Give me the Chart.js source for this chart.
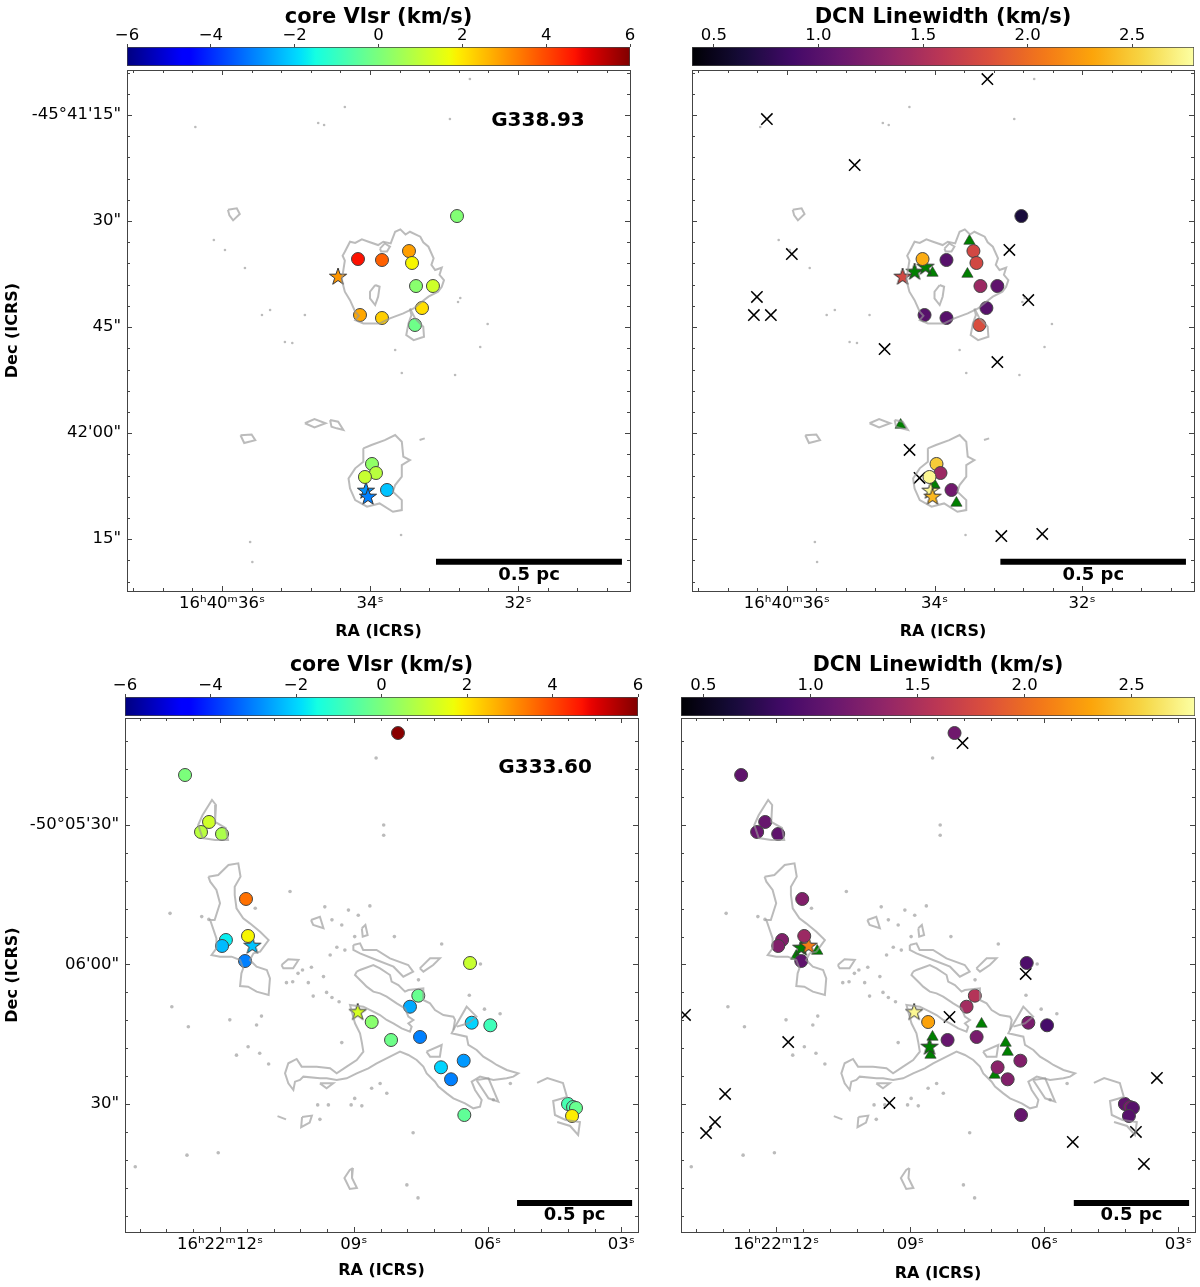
<!DOCTYPE html>
<html>
<head>
<meta charset="utf-8">
<title>core Vlsr and DCN linewidth</title>
<script src="https://cdn.jsdelivr.net/npm/chart.js@4"></script>
<style>
  html, body { margin: 0; padding: 0; background: #fff; }
  #page { position: relative; width: 1200px; height: 1287px; overflow: hidden; }
  canvas { position: absolute; }
</style>
</head>
<body>
<div id="page"></div>
<script>
// G338.93: RA = seconds after 16h40m, Dec = arcsec south of -45d41m
const g338CoreRa = [34.162, 33.838, 33.473, 33.432, 33.378, 33.149, 34.135, 33.838, 33.297, 33.392, 32.824, 33.973, 33.919, 34.068, 33.770];
const g338CoreDec = [35.37, 35.51, 34.24, 35.93, 39.19, 39.19, 43.29, 43.71, 42.30, 44.70, 29.29, 64.36, 65.64, 66.20, 68.04];
const g338CoreVlsr = [4.7, 3.7, 2.9, 1.8, 0.2, 1.2, 2.8, 2.3, 2.1, -0.2, 0.1, 0.3, 0.9, 1.1, -2.2];
const g338CoreWidth = [2.35, 1.0, 1.75, 1.75, 1.4, 1.05, 1.0, 1.0, 1.0, 1.8, 0.65, 2.5, 1.4, 2.75, 1.15];
const g338StarRa = [34.432, 34.054, 34.027];
const g338StarDec = [37.91, 68.18, 69.03];
const g338StarVlsr = [3.0, -2.8, -3.0];
const g338StarWidth = [1.75, 2.75, 2.4];
const g338NoFitStar = [[34.27, 37.21], [34.122, 36.50]];
const g338NoFitTri = [[34.027, 37.35], [33.527, 32.82], [33.554, 37.49], [34.0, 67.33], [33.703, 69.88], [34.459, 58.85]];
const g338NoDcn = [[33.284, 9.91], [36.27, 15.57], [35.081, 22.07], [35.932, 34.66], [36.405, 40.74], [36.446, 43.29], [36.216, 43.29], [34.676, 48.10], [32.986, 34.09], [32.73, 41.17], [33.149, 49.94], [34.338, 62.38], [34.203, 66.34], [33.095, 74.55], [32.541, 74.26]];

const g338Contours = [
  [[34.36, 36.93], [34.34, 35.6], [34.37, 34.9], [34.34, 34.34], [34.27, 32.92], [34.2, 33.1], [34.11, 32.59], [34.02, 32.92], [33.89, 33.39], [33.82, 32.92], [33.72, 33.16], [33.66, 31.51], [33.59, 31.18], [33.52, 31.9], [33.46, 31.51], [33.32, 32.21], [33.28, 33.0], [33.21, 33.63], [33.14, 35.28], [33.17, 36.2], [33.12, 36.93], [33.03, 36.6], [33.06, 37.6], [33.0, 38.35], [33.03, 39.29], [33.08, 40.0], [33.21, 40.70], [33.30, 41.41], [33.41, 42.36], [33.55, 43.06], [33.73, 43.77], [33.87, 44.48], [34.09, 44.48], [34.20, 44.01], [34.15, 43.4], [34.20, 42.83], [34.27, 41.18], [34.34, 39.99], [34.38, 38.35], [34.36, 36.93]],
  [[33.93, 39.05], [33.87, 39.29], [33.89, 40.70], [33.93, 41.88], [34.0, 40.94], [34.0, 40.0], [33.93, 39.05]],
  [[33.46, 42.36], [33.39, 43.77], [33.28, 44.95], [33.27, 46.36], [33.41, 46.84], [33.51, 46.13], [33.48, 44.48], [33.44, 43.30], [33.46, 42.36]],
  [[33.865, 33.9], [33.8, 33.16], [33.73, 33.6], [33.77, 34.3], [33.85, 34.3], [33.865, 33.9]],
  [[34.09, 62.15], [33.98, 61.68], [33.80, 60.98], [33.66, 60.27], [33.57, 61.21], [33.55, 63.33], [33.46, 63.81], [33.57, 64.51], [33.57, 66.16], [33.66, 67.34], [33.69, 68.29], [33.57, 69.47], [33.57, 70.88], [33.69, 71.12], [33.87, 69.94], [34.04, 70.41], [34.20, 69.47], [34.27, 67.81], [34.29, 66.40], [34.20, 64.98], [34.09, 64.04], [34.09, 62.15]],
  [[34.54, 58.15], [34.43, 58.38], [34.36, 59.56], [34.45, 59.32], [34.52, 59.09], [34.54, 58.15]],
  [[33.33, 60.97], [33.26, 60.74]],
  [[35.92, 28.4], [35.8, 28.2], [35.76, 29.0], [35.85, 29.9], [35.9, 29.2], [35.92, 28.4]],
  [[35.75, 60.3], [35.6, 60.2], [35.55, 61.0], [35.7, 61.4], [35.75, 60.3]],
  [[34.88, 58.6], [34.75, 58.0], [34.6, 58.6], [34.75, 59.2], [34.88, 58.6]]
];
const g338Specks = [[32.65, 9.91], [34.34, 13.87], [34.70, 16.13], [34.62, 16.41], [32.92, 15.57], [36.36, 16.70], [36.11, 32.68], [35.96, 34.09], [35.69, 36.64], [35.46, 43.29], [35.35, 42.58], [35.15, 47.11], [35.05, 47.25], [34.88, 43.29], [32.78, 40.88], [32.81, 41.45], [32.41, 44.56], [32.51, 47.81], [32.85, 51.78], [33.57, 51.49], [33.66, 48.24], [35.59, 78.22], [33.58, 74.41], [35.62, 75.4]];

// G333.60: RA = seconds after 16h22m, Dec = arcsec south of -50d05m
const g333CoreRa = [8.009, 12.784, 12.246, 12.426, 11.955, 11.417, 11.372, 11.867, 11.954, 11.439, 6.394, 7.554, 7.74, 8.599, 8.165, 7.515, 6.357, 5.939, 6.536, 7.045, 6.82, 6.522, 4.197, 4.085, 4.018, 4.107];
const g333CoreDec = [10.22, 19.25, 29.35, 31.51, 31.94, 45.91, 53.87, 54.73, 56.02, 59.25, 59.68, 66.71, 69.08, 72.37, 76.24, 75.59, 72.52, 73.08, 80.69, 82.11, 84.69, 92.37, 90.0, 90.65, 90.86, 92.58];
const g333CoreVlsr = [5.9, 0.0, 1.2, 0.9, 0.7, 3.5, 1.8, -1.7, -2.3, -3.0, 1.1, -0.3, -2.5, 0.2, -0.2, -3.0, -2.0, -0.9, -2.7, -2.0, -3.0, -0.4, -0.8, -0.7, -0.3, 1.9];
const g333CoreWidth = [1.15, 1.05, 1.1, 1.1, 1.05, 1.25, 1.4, 1.25, 1.25, 1.05, 0.95, 1.55, 1.45, 2.3, 1.1, 1.2, 1.2, 0.9, 1.25, 1.3, 1.25, 1.1, 1.05, 1.2, 1.0, 1.0];
const g333StarRa = [11.275, 8.912];
const g333StarDec = [56.02, 70.28];
const g333StarVlsr = [-2.2, 1.3];
const g333StarWidth = [2.1, 2.75];
const g333NoFitStar = [[11.439, 56.45], [8.569, 77.74]];
const g333NoFitTri = [[11.081, 57.10], [11.551, 58.17], [8.502, 75.59], [8.547, 79.46], [7.404, 72.80], [6.865, 76.88], [6.82, 78.82], [7.111, 83.76]];
const g333NoDcn = [[6.417, 62.04], [8.121, 71.29], [11.731, 76.67], [9.466, 89.78], [5.363, 98.17], [3.95, 96.02], [3.48, 84.41], [14.04, 70.86], [13.143, 87.85], [13.368, 93.87], [13.569, 96.24], [7.83, 12.37], [3.771, 102.9]];

const g333Contours = [
  [[12.26, 41.11], [12.04, 40.76], [11.81, 38.61], [11.59, 38.25], [11.54, 41.11], [11.67, 43.26], [11.67, 45.06], [11.63, 47.92], [11.48, 50.07], [11.33, 51.15], [11.10, 52.94], [10.91, 54.73], [11.10, 57.24], [11.25, 57.60], [11.33, 59.03], [11.18, 60.47], [10.95, 61.18], [10.88, 62.98], [10.91, 66.56], [11.18, 65.84], [11.37, 64.77], [11.55, 64.63], [11.52, 61.90], [11.48, 60.83], [11.55, 59.03], [11.74, 58.32], [12.0, 58.32], [12.19, 57.96], [12.08, 56.53], [12.08, 54.37], [12.22, 50.43], [12.12, 50.43], [12.0, 46.85], [12.08, 43.98], [12.22, 42.19], [12.26, 41.11]],
  [[12.39, 27.85], [12.18, 24.62], [12.09, 25.70], [12.11, 29.35], [11.87, 30.65], [11.82, 33.23], [12.11, 33.23], [12.39, 32.80], [12.49, 30.0], [12.39, 27.85]],
  [[8.935, 61.54], [8.861, 61.18], [8.562, 60.11], [8.412, 60.83], [8.188, 62.26], [8.151, 63.69], [8.001, 64.41], [7.852, 65.84], [7.777, 65.49], [7.441, 65.13], [7.441, 67.64], [7.291, 68.35], [7.179, 69.79], [6.992, 70.86], [6.768, 71.22], [6.73, 71.94], [6.768, 74.09], [6.805, 74.80], [6.469, 75.52], [6.432, 77.31], [6.245, 78.39], [6.095, 79.82], [5.908, 80.90], [5.796, 81.61], [5.572, 82.69], [5.311, 83.41], [5.423, 84.12], [5.572, 84.48], [5.871, 84.84], [6.17, 84.12], [6.357, 85.20], [6.282, 86.99], [6.133, 89.14], [6.17, 90.57], [6.32, 90.93], [6.506, 89.86], [6.768, 88.78], [6.917, 87.71], [7.104, 86.27], [7.179, 85.20], [7.366, 83.41], [7.441, 81.97], [7.59, 80.54], [7.777, 79.46], [7.964, 78.75], [8.188, 79.82], [8.487, 81.25], [8.674, 82.33], [8.935, 83.41], [9.16, 84.48], [9.384, 84.84], [9.608, 84.48], [9.757, 84.48], [10.131, 84.12], [10.206, 84.84], [10.318, 85.20], [10.355, 86.99], [10.468, 85.56], [10.542, 83.41], [10.468, 81.25], [10.281, 80.32], [10.169, 81.97], [9.832, 81.97], [9.533, 82.33], [9.384, 83.41], [9.16, 81.97], [8.935, 80.54], [8.786, 78.75], [8.823, 76.60], [8.861, 74.80], [8.973, 72.65], [9.085, 68.71], [8.786, 69.07], [8.562, 70.14], [8.412, 70.86], [8.263, 71.94], [8.113, 72.65], [7.927, 73.73], [7.74, 74.45], [7.703, 73.37], [7.777, 72.65], [7.665, 71.94], [7.777, 71.22], [7.852, 69.43], [8.038, 68.35], [8.263, 66.92], [8.412, 66.2], [8.562, 65.84], [8.711, 64.77], [8.786, 64.05], [8.973, 62.26], [8.935, 61.54]],
  [[9.01, 55.81], [8.86, 55.45], [8.79, 56.88], [8.49, 56.88], [8.19, 58.68], [7.78, 60.11], [7.67, 61.54], [7.89, 62.62], [8.11, 60.47], [8.49, 59.03], [8.86, 57.60], [9.01, 56.88], [9.01, 55.81]],
  [[7.52, 60.83], [7.29, 58.68], [7.07, 58.68], [7.22, 60.11], [7.44, 61.54], [7.52, 60.83]],
  [[10.62, 60.11], [10.47, 58.89], [10.24, 59.03], [10.36, 60.83], [10.58, 60.83], [10.62, 60.11]],
  [[9.96, 50.43], [9.76, 49.72], [9.68, 52.22], [9.91, 51.51], [9.96, 50.43]],
  [[8.82, 52.22], [8.74, 51.51], [8.69, 53.66], [8.80, 54.02], [8.82, 52.22]],
  [[7.37, 78.75], [7.03, 77.31], [7.07, 79.82], [7.29, 79.82], [7.37, 78.75]],
  [[6.77, 74.09], [6.47, 69.07], [6.25, 71.22], [6.43, 72.65], [6.69, 73.37]],
  [[6.25, 84.84], [5.98, 84.48], [5.76, 89.50], [5.98, 88.78], [6.25, 84.84]],
  [[9.76, 85.56], [9.46, 85.56], [9.61, 86.63], [9.76, 85.56]],
  [[4.89, 85.48], [4.66, 84.41], [4.31, 85.48], [4.22, 88.49], [4.53, 89.35], [4.49, 92.37], [4.25, 93.44], [3.93, 93.87], [3.97, 96.67], [4.15, 94.73], [4.44, 93.87]],
  [[9.02, 103.76], [9.04, 105.91], [8.93, 108.06], [9.09, 108.28], [9.21, 105.91], [9.09, 104.19], [9.02, 103.76]],
  [[10.16, 92.8], [9.94, 92.5], [9.99, 94], [10.18, 95], [10.16, 92.8]],
  [[10.71, 92.6], [10.52, 93.3]]
];
const g333Specks = [[13.12, 49.0], [12.41, 49.7], [12.25, 50.3], [11.21, 47.9], [10.43, 44.3], [9.95, 60.6], [10.15, 61.2], [10.25, 61.9], [9.68, 62.6], [10.51, 63.9], [10.37, 63.7], [10.02, 63.9], [9.91, 66.8], [9.61, 66.0], [9.49, 67.1], [9.33, 68.0], [13.08, 69.1], [12.71, 73.4], [11.78, 71.9], [11.07, 71.1], [11.18, 73.0], [11.37, 77.7], [11.11, 79.1], [11.63, 79.5], [10.91, 81.4], [9.27, 76.8], [9.53, 57.96], [9.2, 56.9], [9.38, 56.3], [8.9, 49.4], [8.64, 47.4], [9.65, 47.6], [9.49, 50.4], [9.12, 48.3], [9.27, 51.5], [8.98, 54.0], [8.09, 54.0], [7.03, 55.6], [6.16, 59.9], [6.41, 66.6], [7.55, 63.3], [5.72, 70.6], [6.07, 69.6], [5.49, 85.6], [5.87, 89.1], [9.57, 90.2], [8.82, 90.4], [8.6, 86.6], [8.41, 85.6], [8.26, 87.7], [8.98, 88.8], [9.76, 93.3], [13.9, 103.5], [12.04, 100.5], [12.74, 101], [7.81, 107.4], [7.56, 110.2], [7.67, 96.2], [9.81, 90.2], [9.06, 90.2], [8.5, 15.6], [8.33, 32.2], [8.33, 30]];

// colour bar and axis labels
const vlsrTicks = [-6, -4, -2, 0, 2, 4, 6];
const widthTicks = [0.5, 1.0, 1.5, 2.0, 2.5];
const g338RaTicks = [36, 34, 32];
const g338RaLabels = ['16ʰ40ᵐ36ˢ', '34ˢ', '32ˢ'];
const g338DecTicks = [15, 30, 45, 60, 75];
const g338DecLabels = ['-45°41\'15"', '30"', '45"', '42\'00"', '15"'];
const g333RaTicks = [12, 9, 6, 3];
const g333RaLabels = ['16ʰ22ᵐ12ˢ', '09ˢ', '06ˢ', '03ˢ'];
const g333DecTicks = [30, 60, 90];
const g333DecLabels = ['-50°05\'30"', '06\'00"', '30"'];

const FONT = '"DejaVu Sans", sans-serif';
const AXIS_COLOR = '#444';
const CONTOUR_COLOR = 'rgba(150,150,150,0.65)';

const jetR = [[0, 0], [0.35, 0], [0.66, 1], [0.89, 1], [1, 0.5]];
const jetG = [[0, 0], [0.125, 0], [0.375, 1], [0.64, 1], [0.91, 0], [1, 0]];
const jetB = [[0, 0.5], [0.11, 1], [0.34, 1], [0.65, 0], [1, 0]];
const infernoStops = ['#000004', '#160b39', '#420a68', '#6a176e', '#932667', '#bc3754', '#dd513a', '#f37819', '#fca50a', '#f6d746', '#fcffa4'];

function lerpTable(table, t) {
  for (let i = 1; i < table.length; i++) {
    if (t <= table[i][0]) {
      const a = table[i - 1], b = table[i];
      return a[1] + (b[1] - a[1]) * (t - a[0]) / (b[0] - a[0]);
    }
  }
  return table[table.length - 1][1];
}

function jet(t) {
  const c = [jetR, jetG, jetB].map(tb => Math.round(255 * lerpTable(tb, Math.min(1, Math.max(0, t)))));
  return `rgb(${c[0]},${c[1]},${c[2]})`;
}

function inferno(t) {
  const x = Math.min(0.9999, Math.max(0, t)) * 10;
  const i = Math.floor(x), f = x - i;
  const hex = s => [1, 3, 5].map(k => parseInt(s.substr(k, 2), 16));
  const a = hex(infernoStops[i]), b = hex(infernoStops[i + 1]);
  return `rgb(${a.map((v, k) => Math.round(v + (b[k] - v) * f)).join(',')})`;
}

const vlsrColor = v => jet((v + 6) / 12);
const WIDTH_MIN = 0.395, WIDTH_MAX = 2.796;
const widthColor = v => inferno((v - WIDTH_MIN) / (WIDTH_MAX - WIDTH_MIN));

// filled five arm star, chart.js's own 'star' is only strokes
function starImage(color) {
  const size = 22, c = document.createElement('canvas');
  c.width = c.height = size;
  const g = c.getContext('2d');
  g.beginPath();
  for (let i = 0; i < 10; i++) {
    const r = i % 2 ? 3.5 : 9, a = -Math.PI / 2 + i * Math.PI / 5;
    g.lineTo(size / 2 + r * Math.cos(a), size / 2 + r * Math.sin(a));
  }
  g.closePath();
  g.fillStyle = color;
  g.fill();
  g.strokeStyle = '#333';
  g.lineWidth = 1;
  g.stroke();
  return c;
}

function addCanvas(left, top, width, height) {
  const c = document.createElement('canvas');
  c.width = width;
  c.height = height;
  c.style.left = left + 'px';
  c.style.top = top + 'px';
  c.style.width = width + 'px';
  c.style.height = height + 'px';
  document.getElementById('page').appendChild(c);
  return c.getContext('2d');
}

function range(from, to, step) {
  const out = [];
  for (let v = from; v <= to + 1e-6; v += step) out.push(+v.toFixed(3));
  return out;
}

// WCSAxes style frame: inward ticks on all four edges, plus text anchored in data units
const framePlugin = {
  id: 'wcsFrame',
  afterDatasetsDraw(chart, args, opts) {
    const { ctx, chartArea: area, scales: { x, y } } = chart;
    ctx.save();
    ctx.strokeStyle = AXIS_COLOR;
    ctx.lineWidth = 1;
    const mark = (x1, y1, x2, y2) => {
      ctx.beginPath();
      ctx.moveTo(x1, y1);
      ctx.lineTo(x2, y2);
      ctx.stroke();
    };
    const xMark = (v, len) => {
      const p = Math.round(x.getPixelForValue(v)) + 0.5;
      mark(p, area.top, p, area.top + len);
      mark(p, area.bottom, p, area.bottom - len);
    };
    const yMark = (v, len) => {
      const p = Math.round(y.getPixelForValue(v)) + 0.5;
      mark(area.left, p, area.left + len, p);
      mark(area.right, p, area.right - len, p);
    };
    opts.minorX.forEach(v => xMark(v, 3));
    opts.minorY.forEach(v => yMark(v, 3));
    opts.majorX.forEach(v => xMark(v, 5));
    opts.majorY.forEach(v => yMark(v, 5));
    ctx.strokeRect(area.left + 0.5, area.top + 0.5, area.width, area.height);
    ctx.fillStyle = '#000';
    ctx.textAlign = 'center';
    ctx.textBaseline = 'middle';
    opts.texts.forEach(t => {
      ctx.font = `bold ${t.size}px ${FONT}`;
      ctx.fillText(t.text, x.getPixelForValue(t.ra), y.getPixelForValue(t.dec));
    });
    ctx.restore();
  },
};

function renderColorbar(box, title, min, max, ticks, colorFn, digits, titleSize, titleTop) {
  const pad = 30, above = 47;
  const ctx = addCanvas(box.left - pad, box.top - above, box.width + 2 * pad, box.height + above);
  new Chart(ctx, {
    type: 'bar',
    data: {
      labels: [''],
      datasets: [{
        data: [[min, max]],
        barPercentage: 1,
        categoryPercentage: 1,
        borderWidth: 1,
        borderColor: AXIS_COLOR,
        borderSkipped: false,
        backgroundColor(c) {
          const area = c.chart.chartArea;
          if (!area) return '#888';
          const grad = c.chart.ctx.createLinearGradient(area.left, 0, area.right, 0);
          for (let i = 0; i <= 64; i++) grad.addColorStop(i / 64, colorFn(min + (max - min) * i / 64));
          return grad;
        },
      }],
    },
    options: {
      indexAxis: 'y',
      responsive: false,
      animation: false,
      layout: { autoPadding: false, padding: { left: pad, right: pad, top: 0, bottom: 0 } },
      plugins: { legend: { display: false }, tooltip: { enabled: false } },
      scales: {
        y: { display: false },
        x: {
          position: 'top',
          min,
          max,
          afterFit(s) { s.height = above; },
          afterBuildTicks(s) { s.ticks = ticks.map(value => ({ value })); },
          grid: { drawOnChartArea: false, tickLength: 3, tickColor: AXIS_COLOR },
          border: { display: false },
          ticks: {
            autoSkip: false,
            maxRotation: 0,
            padding: -1.5,
            color: '#000',
            font: { family: FONT, size: 16.5 },
            callback: v => (digits ? v.toFixed(digits) : String(v).replace('-', '\u2212')),
          },
          title: {
            display: true,
            text: title,
            color: '#000',
            padding: { top: titleTop, bottom: 0 },
            font: { family: FONT, size: titleSize, weight: 'bold' },
          },
        },
      },
    },
  });
}

function renderPanel(box, cfg) {
  const marginR = 10;
  const ctx = addCanvas(box.left - cfg.marginL, box.top, box.width + cfg.marginL + marginR, box.height + cfg.marginB);
  const pts = list => list.map(p => ({ x: p[0], y: p[1] }));
  const datasets = [];

  cfg.contours.forEach(line => datasets.push({
    type: 'line', data: pts(line), order: 0, borderColor: CONTOUR_COLOR, borderWidth: 2,
    pointRadius: 0, tension: 0, fill: false,
  }));
  datasets.push({
    data: pts(cfg.specks), order: 0, showLine: false, pointRadius: cfg.speckSize, pointBorderWidth: 0,
    pointBackgroundColor: CONTOUR_COLOR,
  });
  if (cfg.noFitStar) {
    datasets.push({
      data: pts(cfg.noFitStar), order: 2, showLine: false, pointRadius: 9,
      pointStyle: cfg.noFitStar.map(() => starImage('#008000')),
    });
    datasets.push({
      data: pts(cfg.noFitTri), order: 2, showLine: false, pointStyle: 'triangle', pointRadius: 6.5,
      pointBackgroundColor: '#008000', pointBorderColor: '#333', pointBorderWidth: 0.6,
    });
    datasets.push({
      data: pts(cfg.noDcn), order: 2, showLine: false, pointStyle: 'crossRot', pointRadius: 8,
      pointBorderColor: '#000', pointBorderWidth: 1.5,
    });
  }
  datasets.push({
    data: cfg.coreRa.map((x, i) => ({ x, y: cfg.coreDec[i] })), order: 1, showLine: false, pointRadius: 6.5,
    pointBackgroundColor: cfg.coreVal.map(cfg.colorFn), pointBorderColor: '#444', pointBorderWidth: 1,
  });
  datasets.push({
    data: cfg.starRa.map((x, i) => ({ x, y: cfg.starDec[i] })), order: 1, showLine: false, pointRadius: 9,
    pointStyle: cfg.starVal.map(v => starImage(cfg.colorFn(v))),
  });
  // scale bar
  datasets.push({
    type: 'line', data: pts(cfg.bar), order: 0, borderColor: '#000', borderWidth: 6,
    borderCapStyle: 'butt', pointRadius: 0,
  });

  const fixedTicks = (values, labels) => ({
    autoSkip: false,
    maxRotation: 0,
    color: '#000',
    font: { family: FONT, size: 16.5 },
    callback: v => labels[values.indexOf(v)],
  });

  new Chart(ctx, {
    type: 'scatter',
    data: { datasets },
    options: {
      responsive: false,
      animation: false,
      layout: { autoPadding: false, padding: { left: 0, right: marginR, top: 0, bottom: 0 } },
      plugins: {
        legend: { display: false },
        tooltip: { enabled: false },
        wcsFrame: {
          majorX: cfg.raTicks, minorX: cfg.raMinor, majorY: cfg.decTicks, minorY: cfg.decMinor, texts: cfg.texts,
        },
      },
      scales: {
        x: {
          reverse: true,
          min: cfg.raMin,
          max: cfg.raMax,
          afterFit(s) { s.height = cfg.marginB; s.paddingLeft = 0; s.paddingRight = 0; },
          afterBuildTicks(s) { s.ticks = cfg.raTicks.map(value => ({ value })); },
          grid: { display: false, drawTicks: false },
          border: { display: false },
          ticks: { ...fixedTicks(cfg.raTicks, cfg.raLabels), padding: 3 },
          title: {
            display: true,
            text: 'RA (ICRS)',
            color: '#000',
            padding: { top: 0, bottom: cfg.raTitlePad },
            font: { family: FONT, size: 16, weight: 'bold' },
          },
        },
        y: {
          reverse: true,
          min: cfg.decMin,
          max: cfg.decMax,
          // drop the label overhang, the plot box has a fixed place on the page
          afterFit(s) { s.width = cfg.marginL; s.paddingTop = 0; s.paddingBottom = 0; },
          afterBuildTicks(s) { s.ticks = cfg.decTicks.map(value => ({ value })); },
          grid: { display: false, drawTicks: false },
          border: { display: false },
          ticks: cfg.showDec
            ? { ...fixedTicks(cfg.decTicks, cfg.decLabels), padding: 6 }
            : { display: false },
          title: {
            display: cfg.showDec,
            text: 'Dec (ICRS)',
            color: '#000',
            padding: { top: 3, bottom: 0 },
            font: { family: FONT, size: 16, weight: 'bold' },
          },
        },
      },
    },
    plugins: [framePlugin],
  });
}

const g338Axes = {
  raMin: 30.486, raMax: 37.284, decMin: 8.63, decMax: 82.33,
  raTicks: g338RaTicks, raLabels: g338RaLabels, raMinor: range(30.8, 37.2, 0.4),
  decTicks: g338DecTicks, decLabels: g338DecLabels, decMinor: range(9, 81, 3),
  contours: g338Contours, specks: g338Specks, speckSize: 1.3,
  coreRa: g338CoreRa, coreDec: g338CoreDec, starRa: g338StarRa, starDec: g338StarDec,
  bar: [[33.108, 78.2], [30.595, 78.2]],
  marginB: 50, raTitlePad: 0,
};
const g333Axes = {
  raMin: 2.628, raMax: 14.13, decMin: 6.99, decMax: 117.53,
  raTicks: g333RaTicks, raLabels: g333RaLabels, raMinor: range(3, 13.8, 0.6),
  decTicks: g333DecTicks, decLabels: g333DecLabels, decMinor: range(12, 114, 6),
  contours: g333Contours, specks: g333Specks, speckSize: 1.8,
  coreRa: g333CoreRa, coreDec: g333CoreDec, starRa: g333StarRa, starDec: g333StarDec,
  bar: [[5.34, 111.3], [2.76, 111.3]],
  marginB: 50, raTitlePad: 2,
};
const g338BarText = { text: '0.5 pc', size: 18, ra: 31.85, dec: 80.1 };
const g333BarText = { text: '0.5 pc', size: 18, ra: 4.05, dec: 113.9 };

renderColorbar({ left: 127, top: 47, width: 503, height: 19 }, 'core Vlsr (km/s)', -6, 6, vlsrTicks, vlsrColor, 0, 21, 5);
renderColorbar({ left: 692, top: 47, width: 502, height: 19 }, 'DCN Linewidth (km/s)', WIDTH_MIN, WIDTH_MAX, widthTicks, widthColor, 1, 21, 5);
renderColorbar({ left: 125, top: 697, width: 513, height: 19 }, 'core Vlsr (km/s)', -6, 6, vlsrTicks, vlsrColor, 0, 20.5, 3);
renderColorbar({ left: 681, top: 697, width: 514, height: 19 }, 'DCN Linewidth (km/s)', WIDTH_MIN, WIDTH_MAX, widthTicks, widthColor, 1, 20.5, 3);

renderPanel({ left: 127, top: 70, width: 503, height: 521 }, {
  ...g338Axes, marginL: 127, showDec: true, colorFn: vlsrColor,
  coreVal: g338CoreVlsr, starVal: g338StarVlsr,
  texts: [g338BarText, { text: 'G338.93', size: 20, ra: 31.73, dec: 15.85 }],
});
renderPanel({ left: 692, top: 70, width: 502, height: 521 }, {
  ...g338Axes, marginL: 10, showDec: false, colorFn: widthColor,
  coreVal: g338CoreWidth, starVal: g338StarWidth,
  noFitStar: g338NoFitStar, noFitTri: g338NoFitTri, noDcn: g338NoDcn,
  texts: [g338BarText],
});
renderPanel({ left: 125, top: 718, width: 513, height: 514 }, {
  ...g333Axes, marginL: 125, showDec: true, colorFn: vlsrColor,
  coreVal: g333CoreVlsr, starVal: g333StarVlsr,
  texts: [g333BarText, { text: 'G333.60', size: 20, ra: 4.71, dec: 17.74 }],
});
renderPanel({ left: 681, top: 718, width: 514, height: 514 }, {
  ...g333Axes, marginL: 10, marginB: 53, showDec: false, colorFn: widthColor,
  coreVal: g333CoreWidth, starVal: g333StarWidth,
  noFitStar: g333NoFitStar, noFitTri: g333NoFitTri, noDcn: g333NoDcn,
  texts: [g333BarText],
});
</script>
</body>
</html>
